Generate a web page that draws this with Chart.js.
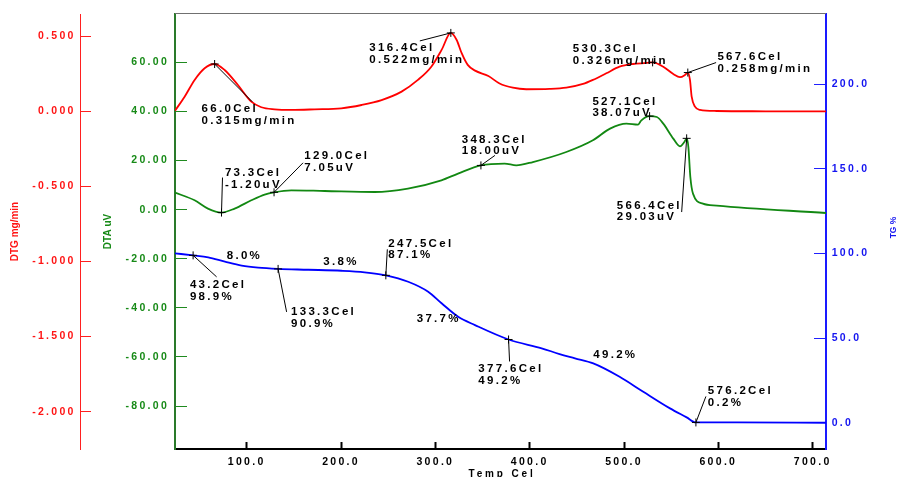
<!DOCTYPE html>
<html>
<head>
<meta charset="utf-8">
<script src="https://cdn.jsdelivr.net/npm/chart.js@4.4.1/dist/chart.umd.min.js"></script>
<style>
  html, body { margin: 0; padding: 0; background: #fff; overflow: hidden; }
  #wrap { width: 899px; height: 477px; position: relative; }
  canvas { display: block; }
</style>
</head>
<body>
<div id="wrap"><canvas id="chart" width="899" height="477"></canvas></div>
<script>
// ---- Axis ticks ----
const tempTicks = [100, 200, 300, 400, 500, 600, 700];
const dtgTicks = [0.5, 0, -0.5, -1, -1.5, -2];
const dtaTicks = [60, 40, 20, 0, -20, -40, -60, -80];
const tgTicks = [200, 150, 100, 50, 0];

// ---- DTG (mg/min) ----
const dtgTemps = [24.0, 34.2, 44.8, 55.4, 66.0, 76.6, 90.7, 104.9, 115.5, 129.6, 147.3, 172.0, 200.3, 221.8, 243.0,
  264.2, 281.5, 295.7, 306.6, 316.4, 322.6, 327.9, 334.3, 342.1, 356.2, 368.1, 382.2, 396.4, 421.1, 438.8,
  456.5, 467.0, 481.2, 495.3, 509.5, 523.6, 530.3, 541.6, 552.2, 559.3, 564.6, 567.6, 569.9, 571.7, 575.2,
  580.5, 598.3, 650.0, 714.1];
const dtgValues = [0.004, 0.097, 0.209, 0.287, 0.315, 0.275, 0.175, 0.064, 0.027, 0.013, 0.009, 0.013, 0.020, 0.042, 0.075,
  0.131, 0.209, 0.297, 0.409, 0.522, 0.475, 0.387, 0.309, 0.271, 0.235, 0.185, 0.157, 0.147, 0.149, 0.157,
  0.182, 0.209, 0.253, 0.297, 0.315, 0.322, 0.326, 0.297, 0.249, 0.227, 0.242, 0.258, 0.209, 0.097, 0.031,
  0.009, 0.002, 0.000, -0.001];

// ---- DTA (uV) ----
const dtaTemps = [24.0, 44.8, 58.9, 73.3, 87.2, 104.9, 119.0, 129.0, 147.3, 182.6, 235.6, 270.9, 306.4, 324.0, 348.3,
  373.4, 385.8, 403.4, 438.8, 467.0, 485.2, 502.5, 514.8, 518.4, 527.1, 534.8, 541.6, 552.2, 559.3, 563.9,
  566.4, 568.2, 570.3, 573.1, 583.6, 598.3, 714.1];
const dtaValues = [6.92, 3.79, 0.41, -1.20, 0.41, 3.79, 6.11, 7.05, 7.86, 7.58, 7.17, 8.55, 11.93, 14.66, 18.00,
  18.74, 18.04, 19.39, 23.46, 28.23, 33.00, 35.03, 34.62, 36.37, 38.07, 37.72, 35.03, 28.92, 25.78, 27.54,
  29.03, 25.50, 13.28, 6.52, 2.44, 1.63, -1.38];

// ---- TG (%) ----
const tgTemps = [24.0, 43.2, 59.2, 76.9, 94.7, 112.2, 133.3, 165.2, 200.6, 225.0, 247.5, 271.2, 292.4, 306.6, 324.2,
  342.0, 377.6, 412.7, 431.7, 448.0, 467.4, 495.3, 520.4, 548.7, 566.4, 576.2, 620.0, 714.1];
const tgValues = [100.1, 98.9, 97.75, 95.15, 92.79, 91.6, 90.9, 90.4, 89.8, 88.9, 87.1, 83.3, 77.4, 70.6, 62.6,
  57.7, 49.2, 44.0, 40.6, 38.1, 35.1, 27.2, 18.3, 8.5, 3.2, 0.2, 0.2, 0.0];

// ---- Marked points ----
const dtgMarkTemps = [66.0, 316.4, 530.3, 567.6];
const dtgMarkValues = [0.315, 0.522, 0.326, 0.258];
const dtaMarkTemps = [73.3, 129.0, 348.3, 527.1, 566.4];
const dtaMarkValues = [-1.20, 7.05, 18.00, 38.07, 29.03];
const tgMarkTemps = [43.2, 133.3, 247.5, 377.6, 576.2];
const tgMarkValues = [98.9, 90.9, 87.1, 49.2, 0.2];
const tgStepLosses = [8.0, 3.8, 37.7, 49.2];

// ---- Styling / placement ----
const FONT = '"Liberation Sans", Arial, sans-serif';
Chart.defaults.font.family = FONT;
const RED = '#ff1414', GREEN = '#178a17', BLUE = '#1414f0';
const noteFont = 'bold 11.5px ' + FONT;
const noteGap = 11.7;
// leader line end and text origin, in px relative to the marked point
const noteLayout = {
  dtg: [
    { lead: [37.6, 37.7], text: [-13, 45.3] },
    { lead: [-31, 8], text: [-81.5, 15.3] },
    { lead: null, text: [-79.8, -13.4] },
    { lead: [28.3, -10], text: [29.6, -15.9] }
  ],
  dta: [
    { lead: [1, -35], text: [3.4, -39.9] },
    { lead: [29, -29.5], text: [30.2, -36] },
    { lead: [14, -10], text: [-19.2, -26] },
    { lead: null, text: [-57.2, -14.8] },
    { lead: [-5, 73.7], text: [-69.9, 67] }
  ],
  tg: [
    { lead: [23.5, 21.5], text: [-3.2, 29.6] },
    { lead: [8.5, 43], text: [12.9, 42.8] },
    { lead: [1.5, -26], text: [2.5, -32] },
    { lead: [1, 22], text: [-30.2, 29.8] },
    { lead: [10, -26], text: [11.9, -31.7] }
  ]
};
// where each mass-loss step label sits (temperature, TG %)
const stepLabelPlaces = [[78.8, 98.7], [181.2, 95.2], [280.2, 61.7], [467.4, 40.0]];

const pts = (xs, ys) => xs.map((x, i) => ({ x: x, y: ys[i] }));
const fixedTicks = list => scale => { scale.ticks = list.map(v => ({ value: v })); };
const sideBox = w => scale => { scale.width = w; scale.paddingTop = 0; scale.paddingBottom = 0; };

const lineSet = (xs, ys, axis, color) => ({
  type: 'line', data: pts(xs, ys), yAxisID: axis, borderColor: color, borderWidth: 1.8,
  pointRadius: 0, fill: false, cubicInterpolationMode: 'monotone', order: 2
});
const markSet = (xs, ys, axis) => ({
  type: 'scatter', data: pts(xs, ys), yAxisID: axis, pointStyle: 'cross', pointRadius: 4,
  borderColor: '#000', pointBorderColor: '#000', pointBorderWidth: 1, backgroundColor: '#000', order: 0
});

const textSpacing = {
  id: 'textSpacing',
  beforeDraw(chart) { chart.ctx.letterSpacing = '2.3px'; }
};

const frameAndNotes = {
  id: 'frameAndNotes',
  beforeDatasetsDraw(chart) {
    const { ctx, chartArea: a } = chart;
    ctx.save();
    ctx.strokeStyle = '#707070';
    ctx.lineWidth = 1.2;
    ctx.beginPath();
    ctx.moveTo(a.left, a.top - 0.5);
    ctx.lineTo(a.right, a.top - 0.5);
    ctx.stroke();
    ctx.restore();
  },
  afterDatasetsDraw(chart) {
    const { ctx, scales } = chart;
    const xs = scales.x;
    ctx.save();
    ctx.letterSpacing = '2.3px';
    ctx.font = noteFont;
    ctx.fillStyle = '#000';
    ctx.strokeStyle = '#000';
    ctx.lineWidth = 1;
    ctx.textAlign = 'left';
    ctx.textBaseline = 'middle';
    const groups = [
      { temps: dtgMarkTemps, vals: dtgMarkValues, ys: scales.yDTG, lay: noteLayout.dtg, fmt: v => v.toFixed(3) + 'mg/min' },
      { temps: dtaMarkTemps, vals: dtaMarkValues, ys: scales.yDTA, lay: noteLayout.dta, fmt: v => v.toFixed(2) + 'uV' },
      { temps: tgMarkTemps, vals: tgMarkValues, ys: scales.yTG, lay: noteLayout.tg, fmt: v => v.toFixed(1) + '%' }
    ];
    groups.forEach(g => {
      g.temps.forEach((t, i) => {
        const px = xs.getPixelForValue(t);
        const py = g.ys.getPixelForValue(g.vals[i]);
        const l = g.lay[i];
        if (l.lead) {
          ctx.beginPath();
          ctx.moveTo(px, py);
          ctx.lineTo(px + l.lead[0], py + l.lead[1]);
          ctx.stroke();
        }
        ctx.fillText(t.toFixed(1) + 'Cel', px + l.text[0], py + l.text[1]);
        ctx.fillText(g.fmt(g.vals[i]), px + l.text[0], py + l.text[1] + noteGap);
      });
    });
    tgStepLosses.forEach((loss, i) => {
      const [t, v] = stepLabelPlaces[i];
      ctx.fillText(loss.toFixed(1) + '%', xs.getPixelForValue(t), scales.yTG.getPixelForValue(v));
    });
    ctx.restore();
  },
  afterDraw(chart) {
    const { ctx, chartArea: a, scales } = chart;
    const midY = (a.top + a.bottom) / 2;
    const vTitle = (text, x, y, color, size) => {
      ctx.save();
      ctx.letterSpacing = '0px';
      ctx.font = 'bold ' + size + 'px ' + FONT;
      ctx.fillStyle = color;
      ctx.textAlign = 'center';
      ctx.textBaseline = 'middle';
      ctx.translate(x, y);
      ctx.rotate(-Math.PI / 2);
      ctx.fillText(text, 0, 0);
      ctx.restore();
    };
    vTitle('DTG mg/min', scales.yDTG.left + 15.3, midY, RED, 10);
    vTitle('DTA uV', scales.yDTA.left + 28.3, midY, GREEN, 10);
    vTitle('TG %', scales.yTG.left + 68, midY - 4, BLUE, 8.5);
    ctx.save();
    ctx.letterSpacing = '2.85px';
    ctx.font = 'bold 10px ' + FONT;
    ctx.fillStyle = '#000';
    ctx.textAlign = 'center';
    ctx.textBaseline = 'alphabetic';
    ctx.fillText('Temp Cel', (a.left + a.right) / 2 + 1.5, 476.5);
    ctx.restore();
  }
};

new Chart(document.getElementById('chart'), {
  type: 'line',
  data: {
    datasets: [
      lineSet(dtgTemps, dtgValues, 'yDTG', '#ff0000'),
      lineSet(dtaTemps, dtaValues, 'yDTA', '#128812'),
      lineSet(tgTemps, tgValues, 'yTG', '#0000ff'),
      markSet(dtgMarkTemps, dtgMarkValues, 'yDTG'),
      markSet(dtaMarkTemps, dtaMarkValues, 'yDTA'),
      markSet(tgMarkTemps, tgMarkValues, 'yTG')
    ]
  },
  options: {
    responsive: false,
    animation: false,
    devicePixelRatio: 1,
    events: [],
    layout: { padding: { top: 14, left: 0, right: 0, bottom: 0 } },
    plugins: { legend: { display: false }, tooltip: { enabled: false } },
    scales: {
      x: {
        type: 'linear', position: 'bottom', min: 24.0, max: 714.1, bounds: 'data',
        afterBuildTicks: fixedTicks(tempTicks),
        afterFit: s => { s.height = 28; s.paddingLeft = 0; s.paddingRight = 0; },
        grid: { drawOnChartArea: false, drawTicks: true, tickLength: -7, tickWidth: 2, color: '#000' },
        border: { color: '#000', width: 2 },
        ticks: { color: '#000', font: { size: 10.5, weight: 'bold', lineHeight: 1.2 }, padding: 14.2,
          maxRotation: 0, minRotation: 0, autoSkip: false, callback: v => Number(v).toFixed(1) }
      },
      yDTG: {
        type: 'linear', position: 'left', weight: 1, min: -2.249, max: 0.648, bounds: 'data',
        afterBuildTicks: fixedTicks(dtgTicks),
        afterFit: sideBox(80),
        grid: { drawOnChartArea: false, drawTicks: true, tickLength: -11, tickWidth: 1, color: '#ff2020' },
        border: { color: '#ff2020', width: 1 },
        ticks: { color: RED, font: { size: 10.5, weight: 'bold', lineHeight: 1.2 }, padding: 15.3,
          autoSkip: false, callback: v => Number(v).toFixed(3) }
      },
      yDTA: {
        type: 'linear', position: 'left', weight: 0, min: -97.5, max: 79.67, bounds: 'data',
        afterBuildTicks: fixedTicks(dtaTicks),
        afterFit: sideBox(95),
        grid: { drawOnChartArea: false, drawTicks: true, tickLength: -12, tickWidth: 1, color: '#1f8a1f' },
        border: { color: '#2a7a2a', width: 2 },
        ticks: { color: GREEN, font: { size: 10.5, weight: 'bold', lineHeight: 1.2 }, padding: 17.9,
          autoSkip: false, callback: v => Number(v).toFixed(2) }
      },
      yTG: {
        type: 'linear', position: 'right', weight: 0, min: -15.5, max: 241.5, bounds: 'data',
        afterBuildTicks: fixedTicks(tgTicks),
        afterFit: sideBox(73),
        grid: { drawOnChartArea: false, drawTicks: true, tickLength: -12, tickWidth: 1, color: '#2020ff' },
        border: { color: '#1a1aff', width: 2 },
        ticks: { color: BLUE, font: { size: 10.5, weight: 'bold', lineHeight: 1.2 }, padding: 17.7,
          autoSkip: false, callback: v => Number(v).toFixed(1) }
      }
    }
  },
  plugins: [textSpacing, frameAndNotes]
});
</script>
</body>
</html>
